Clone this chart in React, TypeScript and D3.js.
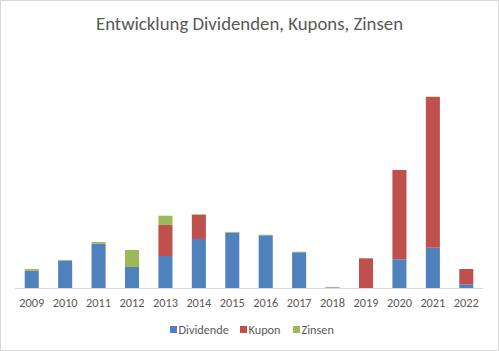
import React, { useEffect, useRef } from "react";
import * as d3 from "d3";

const years = ["2009", "2010", "2011", "2012", "2013", "2014", "2015", "2016", "2017", "2018", "2019", "2020", "2021", "2022"];
const dividende = [17.3, 27.5, 44.3, 21, 32, 49, 55.5, 52.7, 35.7, 0.6, 0, 28.7, 40.3, 3.7];
const kupon = [0, 0, 0, 0, 31, 24.3, 0, 0, 0, 0, 29.7, 89.3, 150.7, 15.3];
const zinsen = [1.7, 0.6, 1.7, 17, 9.3, 0.5, 0.6, 0.6, 0.6, 0.5, 0, 0, 0.4, 0];

const seriesNames = ["Dividende", "Kupon", "Zinsen"];
const colors = ["#4F81BD", "#C0504D", "#9BBB59"];

const W = 499;
const H = 351;

const App: React.FC = () => {
  const svgRef = useRef<SVGSVGElement | null>(null);

  useEffect(() => {
    if (!svgRef.current) return;
    const svg = d3.select(svgRef.current);
    svg.selectAll("*").remove();

    const font = "Carlito, Calibri, 'Liberation Sans', Arial, sans-serif";

    svg.append("rect").attr("x", 0.5).attr("y", 0.5).attr("width", W - 1).attr("height", H - 1)
      .attr("fill", "#fff").attr("stroke", "#D9D9D9");

    svg.append("text").attr("x", 249.5).attr("y", 30).attr("text-anchor", "middle")
      .attr("font-family", font).attr("font-size", 18.8).attr("fill", "#595959")
      .text("Entwicklung Dividenden, Kupons, Zinsen");

    const left = 15, right = 483, base = 288;
    const x = d3.scaleBand().domain(years).range([left, right]).paddingInner(0.58).paddingOuter(0.29);
    const y = d3.scaleLinear().domain([0, 200]).range([base, base - 200]);

    const table = years.map((yr, i) => ({ year: yr, Dividende: dividende[i], Kupon: kupon[i], Zinsen: zinsen[i] }));
    const stacked = d3.stack<any>().keys(seriesNames)(table);

    const g = svg.append("g");
    stacked.forEach((s, si) => {
      g.append("g").attr("fill", colors[si]).selectAll("rect").data(s).enter().append("rect")
        .attr("x", (d: any) => x(d.data.year)!)
        .attr("width", x.bandwidth())
        .attr("y", (d: any) => y(d[1]))
        .attr("height", (d: any) => Math.max(0, y(d[0]) - y(d[1])));
    });

    svg.append("line").attr("x1", left).attr("x2", right).attr("y1", base + 0.5).attr("y2", base + 0.5)
      .attr("stroke", "#D9D9D9");

    svg.append("g").selectAll("text").data(years).enter().append("text")
      .attr("x", (d) => x(d)! + x.bandwidth() / 2).attr("y", 307).attr("text-anchor", "middle")
      .attr("font-family", font).attr("font-size", 12.3).attr("fill", "#595959")
      .text((d) => d);

    const legendX = [170, 240, 293];
    const lg = svg.append("g");
    seriesNames.forEach((name, i) => {
      lg.append("rect").attr("x", legendX[i]).attr("y", 326).attr("width", 7).attr("height", 7).attr("fill", colors[i]);
      lg.append("text").attr("x", legendX[i] + 8.5).attr("y", 333.5)
        .attr("font-family", font).attr("font-size", 12.3).attr("fill", "#595959").text(name);
    });
  }, []);

  return <svg ref={svgRef} width={W} height={H} style={{ position: "absolute", left: 0, top: 0 }}></svg>;
};

export default App;
